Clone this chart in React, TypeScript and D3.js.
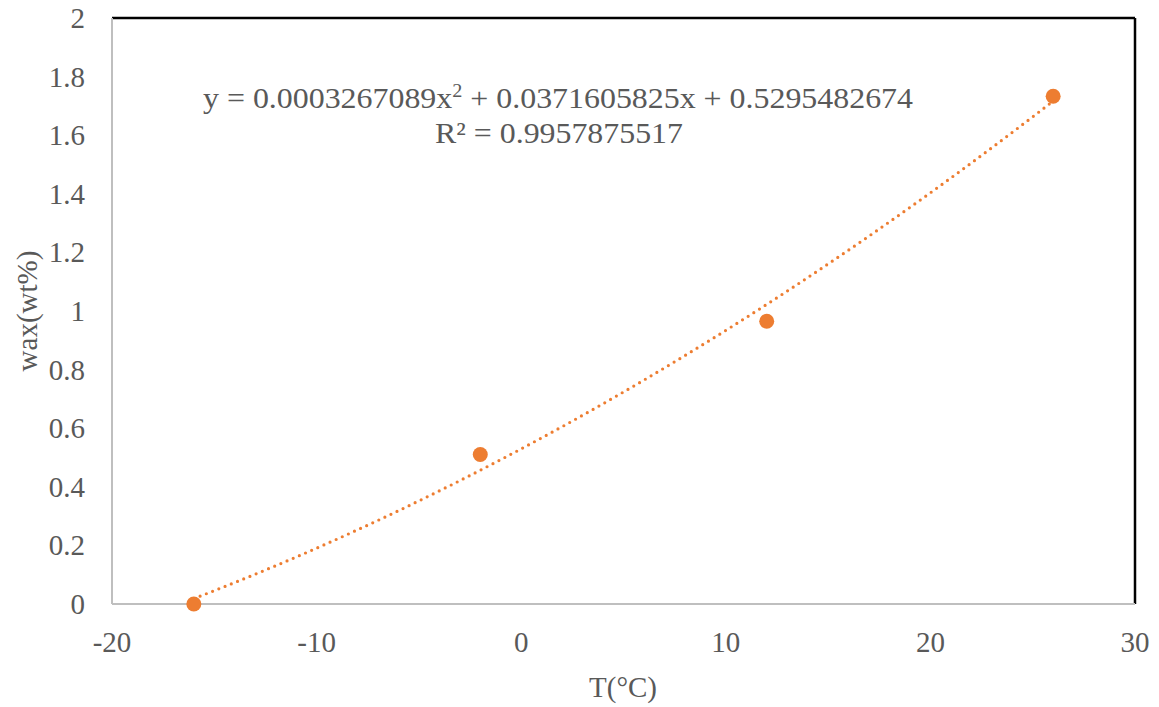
import React from "react";
import * as d3 from "d3";

// Measured wax content against temperature
const temperatures = [-16, -2, 12, 26];
const waxContent = [0, 0.51, 0.965, 1.733];

// Second-order polynomial trendline coefficients (a·x² + b·x + c)
const trendCoefficients = [0.0003267089, 0.0371605825, 0.5295482674];
const equationLabel = "y = 0.0003267089x";
const equationRest = " + 0.0371605825x + 0.5295482674";
const rSquaredLabel = "R² = 0.9957875517";

const xTicks = [-20, -10, 0, 10, 20, 30];
const yTicks = [0, 0.2, 0.4, 0.6, 0.8, 1, 1.2, 1.4, 1.6, 1.8, 2];

const W = 1159;
const H = 707;
const plot = { left: 112, right: 1135, top: 18, bottom: 604 };
const orange = "#ED7D31";
const textGray = "#595959";
const font = "Liberation Serif, Times New Roman, DejaVu Serif, serif";
const textStyle = { fontFamily: font };

export default function App() {
  const x = d3.scaleLinear().domain([-20, 30]).range([plot.left, plot.right]);
  const y = d3.scaleLinear().domain([0, 2]).range([plot.bottom, plot.top]);

  const [a, b, c] = trendCoefficients;
  const xMin = d3.min(temperatures)!;
  const xMax = d3.max(temperatures)!;
  const trendPts = d3.range(0, 201).map((i) => {
    const t = xMin + ((xMax - xMin) * i) / 200;
    return [t, a * t * t + b * t + c] as [number, number];
  });
  const line = d3
    .line<[number, number]>()
    .x((d) => x(d[0]))
    .y((d) => y(d[1]));

  return (
    <svg
      width={W}
      height={H}
      style={{ position: "absolute", left: 0, top: 0, background: "#fff" }}
    >
      {/* plot area frame */}
      <line x1={plot.left} x2={plot.right} y1={plot.top} y2={plot.top} stroke="#000" strokeWidth={2.5} />
      <line x1={plot.right} x2={plot.right} y1={plot.top} y2={plot.bottom} stroke="#000" strokeWidth={2.5} />
      <line x1={plot.left} x2={plot.left} y1={plot.top} y2={plot.bottom} stroke="#BFBFBF" strokeWidth={2} />
      <line x1={plot.left} x2={plot.right} y1={plot.bottom} y2={plot.bottom} stroke="#BFBFBF" strokeWidth={2} />

      {/* y tick labels */}
      {yTicks.map((t) => (
        <text key={t} x={85} y={y(t) + 10} textAnchor="end" fontSize={29} fill={textGray} style={textStyle}>
          {String(t)}
        </text>
      ))}
      {/* x tick labels */}
      {xTicks.map((t) => (
        <text key={t} x={x(t)} y={652} textAnchor="middle" fontSize={29} fill={textGray} style={textStyle}>
          {String(t)}
        </text>
      ))}

      {/* axis titles */}
      <text x={623} y={697} textAnchor="middle" fontSize={29} fill={textGray} style={textStyle}>
        T(°C)
      </text>
      <text
        transform={`translate(37, 311) rotate(-90)`}
        textAnchor="middle"
        fontSize={29}
        fill={textGray}
        style={textStyle}
      >
        wax(wt%)
      </text>

      {/* trendline */}
      <path
        d={line(trendPts) ?? ""}
        fill="none"
        stroke={orange}
        strokeWidth={3.2}
        strokeLinecap="round"
        strokeDasharray="0 6.7"
      />

      {/* data points */}
      {temperatures.map((t, i) => (
        <circle key={t} cx={x(t)} cy={y(waxContent[i])} r={7.5} fill={orange} />
      ))}

      {/* trendline equation */}
      <text
        x={203}
        y={108}
        fontSize={30}
        fill={textGray}
        style={textStyle}
        textLength={710}
        lengthAdjust="spacingAndGlyphs"
      >
        {equationLabel}
        <tspan fontSize={19} dy={-11}>2</tspan>
        <tspan dy={11}>{equationRest}</tspan>
      </text>
      <text
        x={435}
        y={143}
        fontSize={30}
        fill={textGray}
        style={textStyle}
        textLength={248}
        lengthAdjust="spacingAndGlyphs"
      >
        {rSquaredLabel}
      </text>
    </svg>
  );
}
